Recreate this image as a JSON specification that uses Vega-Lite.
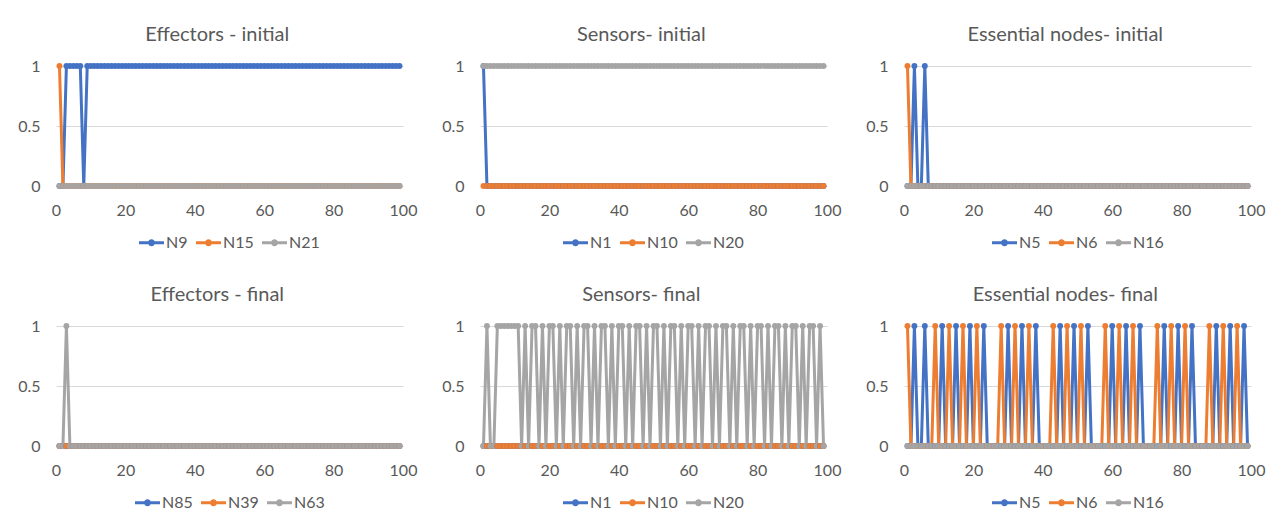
{"$schema":"https://vega.github.io/schema/vega-lite/v6.json","padding":{"left":17,"top":25,"right":5,"bottom":5},"spacing":34,"resolve":{"scale":{"x":"independent","y":"independent","color":"independent"}},
"config":{"font":"Lato","view":{"stroke":null},"title":{"font":"Lato","fontSize":20,"fontWeight":"normal","color":"#595959","offset":13,"frame":"bounds"},
"axis":{"labelFont":"Lato","labelFontSize":16,"labelColor":"#595959","ticks":false,"tickSize":0,"domain":false,"grid":false,"labelFlush":false,"labelOverlap":false},
"axisX":{"labelPadding":16},"axisY":{"labelPadding":16,"grid":true,"gridColor":"#D9D9D9","gridWidth":1},
"legend":{"orient":"bottom","direction":"horizontal","layout":{"bottom":{"anchor":"middle"}},"labelFont":"Lato","labelFontSize":16,"labelColor":"#595959","symbolType":"M-1,-0.12H1V0.12H-1Z M-0.28,0A0.28,0.28 0 1,1 0.28,0A0.28,0.28 0 1,1 -0.28,0Z","symbolSize":625,"symbolStrokeWidth":0,"columnPadding":8,"labelOffset":2,"offset":12}},
"datasets":{
"EI":[{"x":1,"N9":0,"N15":1,"N21":0},{"x":2,"N9":0,"N15":0,"N21":0},{"x":3,"N9":1,"N15":0,"N21":0},{"x":4,"N9":1,"N15":0,"N21":0},{"x":5,"N9":1,"N15":0,"N21":0},{"x":6,"N9":1,"N15":0,"N21":0},{"x":7,"N9":1,"N15":0,"N21":0},{"x":8,"N9":0,"N15":0,"N21":0},{"x":9,"N9":1,"N15":0,"N21":0},{"x":10,"N9":1,"N15":0,"N21":0},{"x":11,"N9":1,"N15":0,"N21":0},{"x":12,"N9":1,"N15":0,"N21":0},{"x":13,"N9":1,"N15":0,"N21":0},{"x":14,"N9":1,"N15":0,"N21":0},{"x":15,"N9":1,"N15":0,"N21":0},{"x":16,"N9":1,"N15":0,"N21":0},{"x":17,"N9":1,"N15":0,"N21":0},{"x":18,"N9":1,"N15":0,"N21":0},{"x":19,"N9":1,"N15":0,"N21":0},{"x":20,"N9":1,"N15":0,"N21":0},{"x":21,"N9":1,"N15":0,"N21":0},{"x":22,"N9":1,"N15":0,"N21":0},{"x":23,"N9":1,"N15":0,"N21":0},{"x":24,"N9":1,"N15":0,"N21":0},{"x":25,"N9":1,"N15":0,"N21":0},{"x":26,"N9":1,"N15":0,"N21":0},{"x":27,"N9":1,"N15":0,"N21":0},{"x":28,"N9":1,"N15":0,"N21":0},{"x":29,"N9":1,"N15":0,"N21":0},{"x":30,"N9":1,"N15":0,"N21":0},{"x":31,"N9":1,"N15":0,"N21":0},{"x":32,"N9":1,"N15":0,"N21":0},{"x":33,"N9":1,"N15":0,"N21":0},{"x":34,"N9":1,"N15":0,"N21":0},{"x":35,"N9":1,"N15":0,"N21":0},{"x":36,"N9":1,"N15":0,"N21":0},{"x":37,"N9":1,"N15":0,"N21":0},{"x":38,"N9":1,"N15":0,"N21":0},{"x":39,"N9":1,"N15":0,"N21":0},{"x":40,"N9":1,"N15":0,"N21":0},{"x":41,"N9":1,"N15":0,"N21":0},{"x":42,"N9":1,"N15":0,"N21":0},{"x":43,"N9":1,"N15":0,"N21":0},{"x":44,"N9":1,"N15":0,"N21":0},{"x":45,"N9":1,"N15":0,"N21":0},{"x":46,"N9":1,"N15":0,"N21":0},{"x":47,"N9":1,"N15":0,"N21":0},{"x":48,"N9":1,"N15":0,"N21":0},{"x":49,"N9":1,"N15":0,"N21":0},{"x":50,"N9":1,"N15":0,"N21":0},{"x":51,"N9":1,"N15":0,"N21":0},{"x":52,"N9":1,"N15":0,"N21":0},{"x":53,"N9":1,"N15":0,"N21":0},{"x":54,"N9":1,"N15":0,"N21":0},{"x":55,"N9":1,"N15":0,"N21":0},{"x":56,"N9":1,"N15":0,"N21":0},{"x":57,"N9":1,"N15":0,"N21":0},{"x":58,"N9":1,"N15":0,"N21":0},{"x":59,"N9":1,"N15":0,"N21":0},{"x":60,"N9":1,"N15":0,"N21":0},{"x":61,"N9":1,"N15":0,"N21":0},{"x":62,"N9":1,"N15":0,"N21":0},{"x":63,"N9":1,"N15":0,"N21":0},{"x":64,"N9":1,"N15":0,"N21":0},{"x":65,"N9":1,"N15":0,"N21":0},{"x":66,"N9":1,"N15":0,"N21":0},{"x":67,"N9":1,"N15":0,"N21":0},{"x":68,"N9":1,"N15":0,"N21":0},{"x":69,"N9":1,"N15":0,"N21":0},{"x":70,"N9":1,"N15":0,"N21":0},{"x":71,"N9":1,"N15":0,"N21":0},{"x":72,"N9":1,"N15":0,"N21":0},{"x":73,"N9":1,"N15":0,"N21":0},{"x":74,"N9":1,"N15":0,"N21":0},{"x":75,"N9":1,"N15":0,"N21":0},{"x":76,"N9":1,"N15":0,"N21":0},{"x":77,"N9":1,"N15":0,"N21":0},{"x":78,"N9":1,"N15":0,"N21":0},{"x":79,"N9":1,"N15":0,"N21":0},{"x":80,"N9":1,"N15":0,"N21":0},{"x":81,"N9":1,"N15":0,"N21":0},{"x":82,"N9":1,"N15":0,"N21":0},{"x":83,"N9":1,"N15":0,"N21":0},{"x":84,"N9":1,"N15":0,"N21":0},{"x":85,"N9":1,"N15":0,"N21":0},{"x":86,"N9":1,"N15":0,"N21":0},{"x":87,"N9":1,"N15":0,"N21":0},{"x":88,"N9":1,"N15":0,"N21":0},{"x":89,"N9":1,"N15":0,"N21":0},{"x":90,"N9":1,"N15":0,"N21":0},{"x":91,"N9":1,"N15":0,"N21":0},{"x":92,"N9":1,"N15":0,"N21":0},{"x":93,"N9":1,"N15":0,"N21":0},{"x":94,"N9":1,"N15":0,"N21":0},{"x":95,"N9":1,"N15":0,"N21":0},{"x":96,"N9":1,"N15":0,"N21":0},{"x":97,"N9":1,"N15":0,"N21":0},{"x":98,"N9":1,"N15":0,"N21":0},{"x":99,"N9":1,"N15":0,"N21":0}],
"SI":[{"x":1,"N1":1,"N10":0,"N20":1},{"x":2,"N1":0,"N10":0,"N20":1},{"x":3,"N1":0,"N10":0,"N20":1},{"x":4,"N1":0,"N10":0,"N20":1},{"x":5,"N1":0,"N10":0,"N20":1},{"x":6,"N1":0,"N10":0,"N20":1},{"x":7,"N1":0,"N10":0,"N20":1},{"x":8,"N1":0,"N10":0,"N20":1},{"x":9,"N1":0,"N10":0,"N20":1},{"x":10,"N1":0,"N10":0,"N20":1},{"x":11,"N1":0,"N10":0,"N20":1},{"x":12,"N1":0,"N10":0,"N20":1},{"x":13,"N1":0,"N10":0,"N20":1},{"x":14,"N1":0,"N10":0,"N20":1},{"x":15,"N1":0,"N10":0,"N20":1},{"x":16,"N1":0,"N10":0,"N20":1},{"x":17,"N1":0,"N10":0,"N20":1},{"x":18,"N1":0,"N10":0,"N20":1},{"x":19,"N1":0,"N10":0,"N20":1},{"x":20,"N1":0,"N10":0,"N20":1},{"x":21,"N1":0,"N10":0,"N20":1},{"x":22,"N1":0,"N10":0,"N20":1},{"x":23,"N1":0,"N10":0,"N20":1},{"x":24,"N1":0,"N10":0,"N20":1},{"x":25,"N1":0,"N10":0,"N20":1},{"x":26,"N1":0,"N10":0,"N20":1},{"x":27,"N1":0,"N10":0,"N20":1},{"x":28,"N1":0,"N10":0,"N20":1},{"x":29,"N1":0,"N10":0,"N20":1},{"x":30,"N1":0,"N10":0,"N20":1},{"x":31,"N1":0,"N10":0,"N20":1},{"x":32,"N1":0,"N10":0,"N20":1},{"x":33,"N1":0,"N10":0,"N20":1},{"x":34,"N1":0,"N10":0,"N20":1},{"x":35,"N1":0,"N10":0,"N20":1},{"x":36,"N1":0,"N10":0,"N20":1},{"x":37,"N1":0,"N10":0,"N20":1},{"x":38,"N1":0,"N10":0,"N20":1},{"x":39,"N1":0,"N10":0,"N20":1},{"x":40,"N1":0,"N10":0,"N20":1},{"x":41,"N1":0,"N10":0,"N20":1},{"x":42,"N1":0,"N10":0,"N20":1},{"x":43,"N1":0,"N10":0,"N20":1},{"x":44,"N1":0,"N10":0,"N20":1},{"x":45,"N1":0,"N10":0,"N20":1},{"x":46,"N1":0,"N10":0,"N20":1},{"x":47,"N1":0,"N10":0,"N20":1},{"x":48,"N1":0,"N10":0,"N20":1},{"x":49,"N1":0,"N10":0,"N20":1},{"x":50,"N1":0,"N10":0,"N20":1},{"x":51,"N1":0,"N10":0,"N20":1},{"x":52,"N1":0,"N10":0,"N20":1},{"x":53,"N1":0,"N10":0,"N20":1},{"x":54,"N1":0,"N10":0,"N20":1},{"x":55,"N1":0,"N10":0,"N20":1},{"x":56,"N1":0,"N10":0,"N20":1},{"x":57,"N1":0,"N10":0,"N20":1},{"x":58,"N1":0,"N10":0,"N20":1},{"x":59,"N1":0,"N10":0,"N20":1},{"x":60,"N1":0,"N10":0,"N20":1},{"x":61,"N1":0,"N10":0,"N20":1},{"x":62,"N1":0,"N10":0,"N20":1},{"x":63,"N1":0,"N10":0,"N20":1},{"x":64,"N1":0,"N10":0,"N20":1},{"x":65,"N1":0,"N10":0,"N20":1},{"x":66,"N1":0,"N10":0,"N20":1},{"x":67,"N1":0,"N10":0,"N20":1},{"x":68,"N1":0,"N10":0,"N20":1},{"x":69,"N1":0,"N10":0,"N20":1},{"x":70,"N1":0,"N10":0,"N20":1},{"x":71,"N1":0,"N10":0,"N20":1},{"x":72,"N1":0,"N10":0,"N20":1},{"x":73,"N1":0,"N10":0,"N20":1},{"x":74,"N1":0,"N10":0,"N20":1},{"x":75,"N1":0,"N10":0,"N20":1},{"x":76,"N1":0,"N10":0,"N20":1},{"x":77,"N1":0,"N10":0,"N20":1},{"x":78,"N1":0,"N10":0,"N20":1},{"x":79,"N1":0,"N10":0,"N20":1},{"x":80,"N1":0,"N10":0,"N20":1},{"x":81,"N1":0,"N10":0,"N20":1},{"x":82,"N1":0,"N10":0,"N20":1},{"x":83,"N1":0,"N10":0,"N20":1},{"x":84,"N1":0,"N10":0,"N20":1},{"x":85,"N1":0,"N10":0,"N20":1},{"x":86,"N1":0,"N10":0,"N20":1},{"x":87,"N1":0,"N10":0,"N20":1},{"x":88,"N1":0,"N10":0,"N20":1},{"x":89,"N1":0,"N10":0,"N20":1},{"x":90,"N1":0,"N10":0,"N20":1},{"x":91,"N1":0,"N10":0,"N20":1},{"x":92,"N1":0,"N10":0,"N20":1},{"x":93,"N1":0,"N10":0,"N20":1},{"x":94,"N1":0,"N10":0,"N20":1},{"x":95,"N1":0,"N10":0,"N20":1},{"x":96,"N1":0,"N10":0,"N20":1},{"x":97,"N1":0,"N10":0,"N20":1},{"x":98,"N1":0,"N10":0,"N20":1},{"x":99,"N1":0,"N10":0,"N20":1}],
"NI":[{"x":1,"N5":0,"N6":1,"N16":0},{"x":2,"N5":0,"N6":0,"N16":0},{"x":3,"N5":1,"N6":0,"N16":0},{"x":4,"N5":0,"N6":0,"N16":0},{"x":5,"N5":0,"N6":0,"N16":0},{"x":6,"N5":1,"N6":0,"N16":0},{"x":7,"N5":0,"N6":0,"N16":0},{"x":8,"N5":0,"N6":0,"N16":0},{"x":9,"N5":0,"N6":0,"N16":0},{"x":10,"N5":0,"N6":0,"N16":0},{"x":11,"N5":0,"N6":0,"N16":0},{"x":12,"N5":0,"N6":0,"N16":0},{"x":13,"N5":0,"N6":0,"N16":0},{"x":14,"N5":0,"N6":0,"N16":0},{"x":15,"N5":0,"N6":0,"N16":0},{"x":16,"N5":0,"N6":0,"N16":0},{"x":17,"N5":0,"N6":0,"N16":0},{"x":18,"N5":0,"N6":0,"N16":0},{"x":19,"N5":0,"N6":0,"N16":0},{"x":20,"N5":0,"N6":0,"N16":0},{"x":21,"N5":0,"N6":0,"N16":0},{"x":22,"N5":0,"N6":0,"N16":0},{"x":23,"N5":0,"N6":0,"N16":0},{"x":24,"N5":0,"N6":0,"N16":0},{"x":25,"N5":0,"N6":0,"N16":0},{"x":26,"N5":0,"N6":0,"N16":0},{"x":27,"N5":0,"N6":0,"N16":0},{"x":28,"N5":0,"N6":0,"N16":0},{"x":29,"N5":0,"N6":0,"N16":0},{"x":30,"N5":0,"N6":0,"N16":0},{"x":31,"N5":0,"N6":0,"N16":0},{"x":32,"N5":0,"N6":0,"N16":0},{"x":33,"N5":0,"N6":0,"N16":0},{"x":34,"N5":0,"N6":0,"N16":0},{"x":35,"N5":0,"N6":0,"N16":0},{"x":36,"N5":0,"N6":0,"N16":0},{"x":37,"N5":0,"N6":0,"N16":0},{"x":38,"N5":0,"N6":0,"N16":0},{"x":39,"N5":0,"N6":0,"N16":0},{"x":40,"N5":0,"N6":0,"N16":0},{"x":41,"N5":0,"N6":0,"N16":0},{"x":42,"N5":0,"N6":0,"N16":0},{"x":43,"N5":0,"N6":0,"N16":0},{"x":44,"N5":0,"N6":0,"N16":0},{"x":45,"N5":0,"N6":0,"N16":0},{"x":46,"N5":0,"N6":0,"N16":0},{"x":47,"N5":0,"N6":0,"N16":0},{"x":48,"N5":0,"N6":0,"N16":0},{"x":49,"N5":0,"N6":0,"N16":0},{"x":50,"N5":0,"N6":0,"N16":0},{"x":51,"N5":0,"N6":0,"N16":0},{"x":52,"N5":0,"N6":0,"N16":0},{"x":53,"N5":0,"N6":0,"N16":0},{"x":54,"N5":0,"N6":0,"N16":0},{"x":55,"N5":0,"N6":0,"N16":0},{"x":56,"N5":0,"N6":0,"N16":0},{"x":57,"N5":0,"N6":0,"N16":0},{"x":58,"N5":0,"N6":0,"N16":0},{"x":59,"N5":0,"N6":0,"N16":0},{"x":60,"N5":0,"N6":0,"N16":0},{"x":61,"N5":0,"N6":0,"N16":0},{"x":62,"N5":0,"N6":0,"N16":0},{"x":63,"N5":0,"N6":0,"N16":0},{"x":64,"N5":0,"N6":0,"N16":0},{"x":65,"N5":0,"N6":0,"N16":0},{"x":66,"N5":0,"N6":0,"N16":0},{"x":67,"N5":0,"N6":0,"N16":0},{"x":68,"N5":0,"N6":0,"N16":0},{"x":69,"N5":0,"N6":0,"N16":0},{"x":70,"N5":0,"N6":0,"N16":0},{"x":71,"N5":0,"N6":0,"N16":0},{"x":72,"N5":0,"N6":0,"N16":0},{"x":73,"N5":0,"N6":0,"N16":0},{"x":74,"N5":0,"N6":0,"N16":0},{"x":75,"N5":0,"N6":0,"N16":0},{"x":76,"N5":0,"N6":0,"N16":0},{"x":77,"N5":0,"N6":0,"N16":0},{"x":78,"N5":0,"N6":0,"N16":0},{"x":79,"N5":0,"N6":0,"N16":0},{"x":80,"N5":0,"N6":0,"N16":0},{"x":81,"N5":0,"N6":0,"N16":0},{"x":82,"N5":0,"N6":0,"N16":0},{"x":83,"N5":0,"N6":0,"N16":0},{"x":84,"N5":0,"N6":0,"N16":0},{"x":85,"N5":0,"N6":0,"N16":0},{"x":86,"N5":0,"N6":0,"N16":0},{"x":87,"N5":0,"N6":0,"N16":0},{"x":88,"N5":0,"N6":0,"N16":0},{"x":89,"N5":0,"N6":0,"N16":0},{"x":90,"N5":0,"N6":0,"N16":0},{"x":91,"N5":0,"N6":0,"N16":0},{"x":92,"N5":0,"N6":0,"N16":0},{"x":93,"N5":0,"N6":0,"N16":0},{"x":94,"N5":0,"N6":0,"N16":0},{"x":95,"N5":0,"N6":0,"N16":0},{"x":96,"N5":0,"N6":0,"N16":0},{"x":97,"N5":0,"N6":0,"N16":0},{"x":98,"N5":0,"N6":0,"N16":0},{"x":99,"N5":0,"N6":0,"N16":0}],
"EF":[{"x":1,"N85":0,"N39":0,"N63":0},{"x":2,"N85":0,"N39":0,"N63":0},{"x":3,"N85":0,"N39":0,"N63":1},{"x":4,"N85":0,"N39":0,"N63":0},{"x":5,"N85":0,"N39":0,"N63":0},{"x":6,"N85":0,"N39":0,"N63":0},{"x":7,"N85":0,"N39":0,"N63":0},{"x":8,"N85":0,"N39":0,"N63":0},{"x":9,"N85":0,"N39":0,"N63":0},{"x":10,"N85":0,"N39":0,"N63":0},{"x":11,"N85":0,"N39":0,"N63":0},{"x":12,"N85":0,"N39":0,"N63":0},{"x":13,"N85":0,"N39":0,"N63":0},{"x":14,"N85":0,"N39":0,"N63":0},{"x":15,"N85":0,"N39":0,"N63":0},{"x":16,"N85":0,"N39":0,"N63":0},{"x":17,"N85":0,"N39":0,"N63":0},{"x":18,"N85":0,"N39":0,"N63":0},{"x":19,"N85":0,"N39":0,"N63":0},{"x":20,"N85":0,"N39":0,"N63":0},{"x":21,"N85":0,"N39":0,"N63":0},{"x":22,"N85":0,"N39":0,"N63":0},{"x":23,"N85":0,"N39":0,"N63":0},{"x":24,"N85":0,"N39":0,"N63":0},{"x":25,"N85":0,"N39":0,"N63":0},{"x":26,"N85":0,"N39":0,"N63":0},{"x":27,"N85":0,"N39":0,"N63":0},{"x":28,"N85":0,"N39":0,"N63":0},{"x":29,"N85":0,"N39":0,"N63":0},{"x":30,"N85":0,"N39":0,"N63":0},{"x":31,"N85":0,"N39":0,"N63":0},{"x":32,"N85":0,"N39":0,"N63":0},{"x":33,"N85":0,"N39":0,"N63":0},{"x":34,"N85":0,"N39":0,"N63":0},{"x":35,"N85":0,"N39":0,"N63":0},{"x":36,"N85":0,"N39":0,"N63":0},{"x":37,"N85":0,"N39":0,"N63":0},{"x":38,"N85":0,"N39":0,"N63":0},{"x":39,"N85":0,"N39":0,"N63":0},{"x":40,"N85":0,"N39":0,"N63":0},{"x":41,"N85":0,"N39":0,"N63":0},{"x":42,"N85":0,"N39":0,"N63":0},{"x":43,"N85":0,"N39":0,"N63":0},{"x":44,"N85":0,"N39":0,"N63":0},{"x":45,"N85":0,"N39":0,"N63":0},{"x":46,"N85":0,"N39":0,"N63":0},{"x":47,"N85":0,"N39":0,"N63":0},{"x":48,"N85":0,"N39":0,"N63":0},{"x":49,"N85":0,"N39":0,"N63":0},{"x":50,"N85":0,"N39":0,"N63":0},{"x":51,"N85":0,"N39":0,"N63":0},{"x":52,"N85":0,"N39":0,"N63":0},{"x":53,"N85":0,"N39":0,"N63":0},{"x":54,"N85":0,"N39":0,"N63":0},{"x":55,"N85":0,"N39":0,"N63":0},{"x":56,"N85":0,"N39":0,"N63":0},{"x":57,"N85":0,"N39":0,"N63":0},{"x":58,"N85":0,"N39":0,"N63":0},{"x":59,"N85":0,"N39":0,"N63":0},{"x":60,"N85":0,"N39":0,"N63":0},{"x":61,"N85":0,"N39":0,"N63":0},{"x":62,"N85":0,"N39":0,"N63":0},{"x":63,"N85":0,"N39":0,"N63":0},{"x":64,"N85":0,"N39":0,"N63":0},{"x":65,"N85":0,"N39":0,"N63":0},{"x":66,"N85":0,"N39":0,"N63":0},{"x":67,"N85":0,"N39":0,"N63":0},{"x":68,"N85":0,"N39":0,"N63":0},{"x":69,"N85":0,"N39":0,"N63":0},{"x":70,"N85":0,"N39":0,"N63":0},{"x":71,"N85":0,"N39":0,"N63":0},{"x":72,"N85":0,"N39":0,"N63":0},{"x":73,"N85":0,"N39":0,"N63":0},{"x":74,"N85":0,"N39":0,"N63":0},{"x":75,"N85":0,"N39":0,"N63":0},{"x":76,"N85":0,"N39":0,"N63":0},{"x":77,"N85":0,"N39":0,"N63":0},{"x":78,"N85":0,"N39":0,"N63":0},{"x":79,"N85":0,"N39":0,"N63":0},{"x":80,"N85":0,"N39":0,"N63":0},{"x":81,"N85":0,"N39":0,"N63":0},{"x":82,"N85":0,"N39":0,"N63":0},{"x":83,"N85":0,"N39":0,"N63":0},{"x":84,"N85":0,"N39":0,"N63":0},{"x":85,"N85":0,"N39":0,"N63":0},{"x":86,"N85":0,"N39":0,"N63":0},{"x":87,"N85":0,"N39":0,"N63":0},{"x":88,"N85":0,"N39":0,"N63":0},{"x":89,"N85":0,"N39":0,"N63":0},{"x":90,"N85":0,"N39":0,"N63":0},{"x":91,"N85":0,"N39":0,"N63":0},{"x":92,"N85":0,"N39":0,"N63":0},{"x":93,"N85":0,"N39":0,"N63":0},{"x":94,"N85":0,"N39":0,"N63":0},{"x":95,"N85":0,"N39":0,"N63":0},{"x":96,"N85":0,"N39":0,"N63":0},{"x":97,"N85":0,"N39":0,"N63":0},{"x":98,"N85":0,"N39":0,"N63":0},{"x":99,"N85":0,"N39":0,"N63":0}],
"SF":[{"x":1,"N1":0,"N10":0,"N20":0},{"x":2,"N1":0,"N10":0,"N20":1},{"x":3,"N1":0,"N10":0,"N20":0},{"x":4,"N1":0,"N10":0,"N20":0},{"x":5,"N1":0,"N10":0,"N20":1},{"x":6,"N1":0,"N10":0,"N20":1},{"x":7,"N1":0,"N10":0,"N20":1},{"x":8,"N1":0,"N10":0,"N20":1},{"x":9,"N1":0,"N10":0,"N20":1},{"x":10,"N1":0,"N10":0,"N20":1},{"x":11,"N1":0,"N10":0,"N20":1},{"x":12,"N1":0,"N10":0,"N20":0},{"x":13,"N1":0,"N10":0,"N20":1},{"x":14,"N1":0,"N10":0,"N20":0},{"x":15,"N1":0,"N10":0,"N20":1},{"x":16,"N1":0,"N10":0,"N20":1},{"x":17,"N1":0,"N10":0,"N20":0},{"x":18,"N1":0,"N10":0,"N20":1},{"x":19,"N1":0,"N10":0,"N20":0},{"x":20,"N1":0,"N10":0,"N20":1},{"x":21,"N1":0,"N10":0,"N20":1},{"x":22,"N1":0,"N10":0,"N20":0},{"x":23,"N1":0,"N10":0,"N20":1},{"x":24,"N1":0,"N10":0,"N20":0},{"x":25,"N1":0,"N10":0,"N20":1},{"x":26,"N1":0,"N10":0,"N20":1},{"x":27,"N1":0,"N10":0,"N20":0},{"x":28,"N1":0,"N10":0,"N20":1},{"x":29,"N1":0,"N10":0,"N20":0},{"x":30,"N1":0,"N10":0,"N20":1},{"x":31,"N1":0,"N10":0,"N20":1},{"x":32,"N1":0,"N10":0,"N20":0},{"x":33,"N1":0,"N10":0,"N20":1},{"x":34,"N1":0,"N10":0,"N20":0},{"x":35,"N1":0,"N10":0,"N20":1},{"x":36,"N1":0,"N10":0,"N20":1},{"x":37,"N1":0,"N10":0,"N20":0},{"x":38,"N1":0,"N10":0,"N20":1},{"x":39,"N1":0,"N10":0,"N20":0},{"x":40,"N1":0,"N10":0,"N20":1},{"x":41,"N1":0,"N10":0,"N20":1},{"x":42,"N1":0,"N10":0,"N20":0},{"x":43,"N1":0,"N10":0,"N20":1},{"x":44,"N1":0,"N10":0,"N20":0},{"x":45,"N1":0,"N10":0,"N20":1},{"x":46,"N1":0,"N10":0,"N20":1},{"x":47,"N1":0,"N10":0,"N20":0},{"x":48,"N1":0,"N10":0,"N20":1},{"x":49,"N1":0,"N10":0,"N20":0},{"x":50,"N1":0,"N10":0,"N20":1},{"x":51,"N1":0,"N10":0,"N20":1},{"x":52,"N1":0,"N10":0,"N20":0},{"x":53,"N1":0,"N10":0,"N20":1},{"x":54,"N1":0,"N10":0,"N20":0},{"x":55,"N1":0,"N10":0,"N20":1},{"x":56,"N1":0,"N10":0,"N20":1},{"x":57,"N1":0,"N10":0,"N20":0},{"x":58,"N1":0,"N10":0,"N20":1},{"x":59,"N1":0,"N10":0,"N20":0},{"x":60,"N1":0,"N10":0,"N20":1},{"x":61,"N1":0,"N10":0,"N20":1},{"x":62,"N1":0,"N10":0,"N20":0},{"x":63,"N1":0,"N10":0,"N20":1},{"x":64,"N1":0,"N10":0,"N20":0},{"x":65,"N1":0,"N10":0,"N20":1},{"x":66,"N1":0,"N10":0,"N20":1},{"x":67,"N1":0,"N10":0,"N20":0},{"x":68,"N1":0,"N10":0,"N20":1},{"x":69,"N1":0,"N10":0,"N20":0},{"x":70,"N1":0,"N10":0,"N20":1},{"x":71,"N1":0,"N10":0,"N20":1},{"x":72,"N1":0,"N10":0,"N20":0},{"x":73,"N1":0,"N10":0,"N20":1},{"x":74,"N1":0,"N10":0,"N20":0},{"x":75,"N1":0,"N10":0,"N20":1},{"x":76,"N1":0,"N10":0,"N20":1},{"x":77,"N1":0,"N10":0,"N20":0},{"x":78,"N1":0,"N10":0,"N20":1},{"x":79,"N1":0,"N10":0,"N20":0},{"x":80,"N1":0,"N10":0,"N20":1},{"x":81,"N1":0,"N10":0,"N20":1},{"x":82,"N1":0,"N10":0,"N20":0},{"x":83,"N1":0,"N10":0,"N20":1},{"x":84,"N1":0,"N10":0,"N20":0},{"x":85,"N1":0,"N10":0,"N20":1},{"x":86,"N1":0,"N10":0,"N20":1},{"x":87,"N1":0,"N10":0,"N20":0},{"x":88,"N1":0,"N10":0,"N20":1},{"x":89,"N1":0,"N10":0,"N20":0},{"x":90,"N1":0,"N10":0,"N20":1},{"x":91,"N1":0,"N10":0,"N20":1},{"x":92,"N1":0,"N10":0,"N20":0},{"x":93,"N1":0,"N10":0,"N20":1},{"x":94,"N1":0,"N10":0,"N20":0},{"x":95,"N1":0,"N10":0,"N20":1},{"x":96,"N1":0,"N10":0,"N20":1},{"x":97,"N1":0,"N10":0,"N20":0},{"x":98,"N1":0,"N10":0,"N20":1},{"x":99,"N1":0,"N10":0,"N20":0}],
"NF":[{"x":1,"N5":0,"N6":1,"N16":0},{"x":2,"N5":0,"N6":0,"N16":0},{"x":3,"N5":1,"N6":0,"N16":0},{"x":4,"N5":0,"N6":0,"N16":0},{"x":5,"N5":0,"N6":0,"N16":0},{"x":6,"N5":1,"N6":0,"N16":0},{"x":7,"N5":0,"N6":0,"N16":0},{"x":8,"N5":0,"N6":0,"N16":0},{"x":9,"N5":0,"N6":1,"N16":0},{"x":10,"N5":0,"N6":0,"N16":0},{"x":11,"N5":1,"N6":0,"N16":0},{"x":12,"N5":0,"N6":0,"N16":0},{"x":13,"N5":0,"N6":1,"N16":0},{"x":14,"N5":0,"N6":0,"N16":0},{"x":15,"N5":1,"N6":0,"N16":0},{"x":16,"N5":0,"N6":0,"N16":0},{"x":17,"N5":0,"N6":1,"N16":0},{"x":18,"N5":0,"N6":0,"N16":0},{"x":19,"N5":1,"N6":0,"N16":0},{"x":20,"N5":0,"N6":0,"N16":0},{"x":21,"N5":0,"N6":1,"N16":0},{"x":22,"N5":0,"N6":0,"N16":0},{"x":23,"N5":1,"N6":0,"N16":0},{"x":24,"N5":0,"N6":0,"N16":0},{"x":25,"N5":0,"N6":0,"N16":0},{"x":26,"N5":0,"N6":0,"N16":0},{"x":27,"N5":0,"N6":0,"N16":0},{"x":28,"N5":0,"N6":1,"N16":0},{"x":29,"N5":0,"N6":0,"N16":0},{"x":30,"N5":1,"N6":0,"N16":0},{"x":31,"N5":0,"N6":0,"N16":0},{"x":32,"N5":0,"N6":1,"N16":0},{"x":33,"N5":0,"N6":0,"N16":0},{"x":34,"N5":1,"N6":0,"N16":0},{"x":35,"N5":0,"N6":0,"N16":0},{"x":36,"N5":0,"N6":1,"N16":0},{"x":37,"N5":0,"N6":0,"N16":0},{"x":38,"N5":1,"N6":0,"N16":0},{"x":39,"N5":0,"N6":0,"N16":0},{"x":40,"N5":0,"N6":0,"N16":0},{"x":41,"N5":0,"N6":0,"N16":0},{"x":42,"N5":0,"N6":0,"N16":0},{"x":43,"N5":0,"N6":1,"N16":0},{"x":44,"N5":0,"N6":0,"N16":0},{"x":45,"N5":1,"N6":0,"N16":0},{"x":46,"N5":0,"N6":0,"N16":0},{"x":47,"N5":0,"N6":1,"N16":0},{"x":48,"N5":0,"N6":0,"N16":0},{"x":49,"N5":1,"N6":0,"N16":0},{"x":50,"N5":0,"N6":0,"N16":0},{"x":51,"N5":0,"N6":1,"N16":0},{"x":52,"N5":0,"N6":0,"N16":0},{"x":53,"N5":1,"N6":0,"N16":0},{"x":54,"N5":0,"N6":0,"N16":0},{"x":55,"N5":0,"N6":0,"N16":0},{"x":56,"N5":0,"N6":0,"N16":0},{"x":57,"N5":0,"N6":0,"N16":0},{"x":58,"N5":0,"N6":1,"N16":0},{"x":59,"N5":0,"N6":0,"N16":0},{"x":60,"N5":1,"N6":0,"N16":0},{"x":61,"N5":0,"N6":0,"N16":0},{"x":62,"N5":0,"N6":1,"N16":0},{"x":63,"N5":0,"N6":0,"N16":0},{"x":64,"N5":1,"N6":0,"N16":0},{"x":65,"N5":0,"N6":0,"N16":0},{"x":66,"N5":0,"N6":1,"N16":0},{"x":67,"N5":0,"N6":0,"N16":0},{"x":68,"N5":1,"N6":0,"N16":0},{"x":69,"N5":0,"N6":0,"N16":0},{"x":70,"N5":0,"N6":0,"N16":0},{"x":71,"N5":0,"N6":0,"N16":0},{"x":72,"N5":0,"N6":0,"N16":0},{"x":73,"N5":0,"N6":1,"N16":0},{"x":74,"N5":0,"N6":0,"N16":0},{"x":75,"N5":1,"N6":0,"N16":0},{"x":76,"N5":0,"N6":0,"N16":0},{"x":77,"N5":0,"N6":1,"N16":0},{"x":78,"N5":0,"N6":0,"N16":0},{"x":79,"N5":1,"N6":0,"N16":0},{"x":80,"N5":0,"N6":0,"N16":0},{"x":81,"N5":0,"N6":1,"N16":0},{"x":82,"N5":0,"N6":0,"N16":0},{"x":83,"N5":1,"N6":0,"N16":0},{"x":84,"N5":0,"N6":0,"N16":0},{"x":85,"N5":0,"N6":0,"N16":0},{"x":86,"N5":0,"N6":0,"N16":0},{"x":87,"N5":0,"N6":0,"N16":0},{"x":88,"N5":0,"N6":1,"N16":0},{"x":89,"N5":0,"N6":0,"N16":0},{"x":90,"N5":1,"N6":0,"N16":0},{"x":91,"N5":0,"N6":0,"N16":0},{"x":92,"N5":0,"N6":1,"N16":0},{"x":93,"N5":0,"N6":0,"N16":0},{"x":94,"N5":1,"N6":0,"N16":0},{"x":95,"N5":0,"N6":0,"N16":0},{"x":96,"N5":0,"N6":1,"N16":0},{"x":97,"N5":0,"N6":0,"N16":0},{"x":98,"N5":1,"N6":0,"N16":0},{"x":99,"N5":0,"N6":0,"N16":0}]},
"vconcat":[
{"spacing":24,"resolve":{"scale":{"x":"independent","y":"independent","color":"independent"}},"hconcat":[
{"data":{"name":"EI"},"transform":[{"fold":["N9","N15","N21"],"as":["series","value"]}],"title":"Effectors - initial","width":347,"height":120,
"encoding":{"x":{"field":"x","type":"quantitative","title":null,"scale":{"domain":[0,100]},"axis":{"values":[0,20,40,60,80,100]}},"y":{"field":"value","type":"quantitative","title":null,"scale":{"domain":[0,1]},"axis":{"values":[0,0.5,1],"format":"~g"}},"color":{"field":"series","type":"nominal","title":null,"scale":{"domain":["N9","N15","N21"],"range":["#4472C4","#ED7D31","#A5A5A5"]}}},
"layer":[{"mark":{"type":"line","strokeWidth":3}},{"mark":{"type":"point","filled":true,"size":35,"opacity":1}}]},
{"data":{"name":"SI"},"transform":[{"fold":["N1","N10","N20"],"as":["series","value"]}],"title":"Sensors- initial","width":347,"height":120,
"encoding":{"x":{"field":"x","type":"quantitative","title":null,"scale":{"domain":[0,100]},"axis":{"values":[0,20,40,60,80,100]}},"y":{"field":"value","type":"quantitative","title":null,"scale":{"domain":[0,1]},"axis":{"values":[0,0.5,1],"format":"~g"}},"color":{"field":"series","type":"nominal","title":null,"scale":{"domain":["N1","N10","N20"],"range":["#4472C4","#ED7D31","#A5A5A5"]}}},
"layer":[{"mark":{"type":"line","strokeWidth":3}},{"mark":{"type":"point","filled":true,"size":35,"opacity":1}}]},
{"data":{"name":"NI"},"transform":[{"fold":["N5","N6","N16"],"as":["series","value"]}],"title":"Essential nodes- initial","width":347,"height":120,
"encoding":{"x":{"field":"x","type":"quantitative","title":null,"scale":{"domain":[0,100]},"axis":{"values":[0,20,40,60,80,100]}},"y":{"field":"value","type":"quantitative","title":null,"scale":{"domain":[0,1]},"axis":{"values":[0,0.5,1],"format":"~g"}},"color":{"field":"series","type":"nominal","title":null,"scale":{"domain":["N5","N6","N16"],"range":["#4472C4","#ED7D31","#A5A5A5"]}}},
"layer":[{"mark":{"type":"line","strokeWidth":3}},{"mark":{"type":"point","filled":true,"size":35,"opacity":1}}]}]},
{"spacing":24,"resolve":{"scale":{"x":"independent","y":"independent","color":"independent"}},"hconcat":[
{"data":{"name":"EF"},"transform":[{"fold":["N85","N39","N63"],"as":["series","value"]}],"title":"Effectors - final","width":347,"height":120,
"encoding":{"x":{"field":"x","type":"quantitative","title":null,"scale":{"domain":[0,100]},"axis":{"values":[0,20,40,60,80,100]}},"y":{"field":"value","type":"quantitative","title":null,"scale":{"domain":[0,1]},"axis":{"values":[0,0.5,1],"format":"~g"}},"color":{"field":"series","type":"nominal","title":null,"scale":{"domain":["N85","N39","N63"],"range":["#4472C4","#ED7D31","#A5A5A5"]}}},
"layer":[{"mark":{"type":"line","strokeWidth":3}},{"mark":{"type":"point","filled":true,"size":35,"opacity":1}}]},
{"data":{"name":"SF"},"transform":[{"fold":["N1","N10","N20"],"as":["series","value"]}],"title":"Sensors- final","width":347,"height":120,
"encoding":{"x":{"field":"x","type":"quantitative","title":null,"scale":{"domain":[0,100]},"axis":{"values":[0,20,40,60,80,100]}},"y":{"field":"value","type":"quantitative","title":null,"scale":{"domain":[0,1]},"axis":{"values":[0,0.5,1],"format":"~g"}},"color":{"field":"series","type":"nominal","title":null,"scale":{"domain":["N1","N10","N20"],"range":["#4472C4","#ED7D31","#A5A5A5"]}}},
"layer":[{"mark":{"type":"line","strokeWidth":3}},{"mark":{"type":"point","filled":true,"size":35,"opacity":1}}]},
{"data":{"name":"NF"},"transform":[{"fold":["N5","N6","N16"],"as":["series","value"]}],"title":"Essential nodes- final","width":347,"height":120,
"encoding":{"x":{"field":"x","type":"quantitative","title":null,"scale":{"domain":[0,100]},"axis":{"values":[0,20,40,60,80,100]}},"y":{"field":"value","type":"quantitative","title":null,"scale":{"domain":[0,1]},"axis":{"values":[0,0.5,1],"format":"~g"}},"color":{"field":"series","type":"nominal","title":null,"scale":{"domain":["N5","N6","N16"],"range":["#4472C4","#ED7D31","#A5A5A5"]}}},
"layer":[{"mark":{"type":"line","strokeWidth":3}},{"mark":{"type":"point","filled":true,"size":35,"opacity":1}}]}]}]}
